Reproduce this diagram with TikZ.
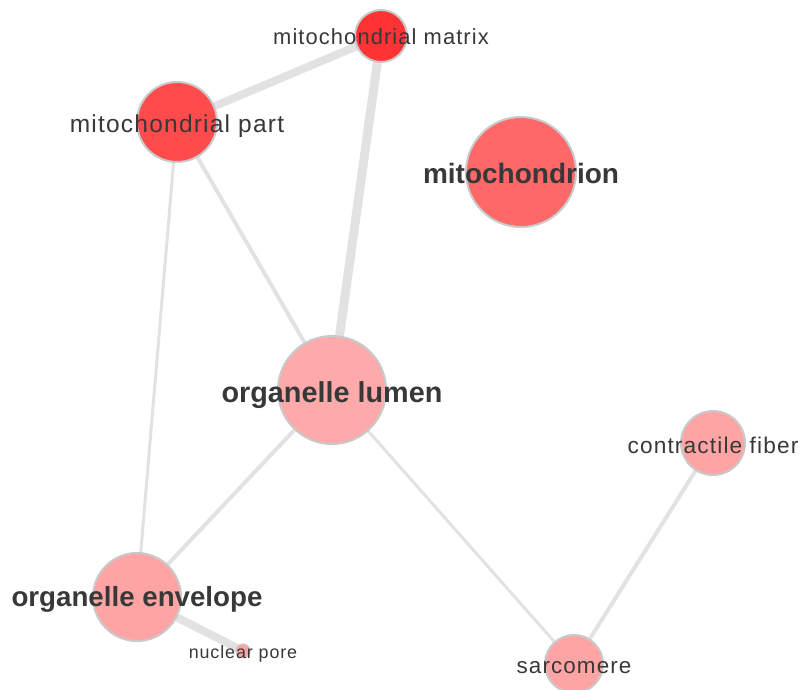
\documentclass[tikz,border=0pt]{standalone}
\usepackage{fontspec}
\setmainfont{Liberation Sans}
\newfontfamily\spacedsans[LetterSpace=5]{Liberation Sans}
\usetikzlibrary{backgrounds}
\definecolor{edgegray}{HTML}{E2E2E2}
\definecolor{ringgray}{HTML}{C9C9C9}
\definecolor{txt}{HTML}{383838}
\definecolor{redA}{HTML}{FF3333}
\definecolor{redB}{HTML}{FF4B4B}
\definecolor{redC}{HTML}{FF6868}
\definecolor{pinkA}{HTML}{FFAAAA}
\definecolor{pinkB}{HTML}{FFA4A4}
\newcommand\lblreg[1]{\fontsize{#1}{#1}\spacedsans}
\newcommand\lblbold[1]{\fontsize{#1}{#1}\selectfont\bfseries}
\tikzset{
  term/.style={circle, draw=ringgray, line width=2pt, inner sep=0pt, minimum size=#1},
  lbl/.style={anchor=base, text=txt, inner sep=0pt},
  link/.style={draw=edgegray, line width=#1},
}
\begin{document}
\begin{tikzpicture}[x=1pt, y=-1pt]
  \useasboundingbox (0,0) rectangle (804,689);
  \clip (0,0) rectangle (804,689);

  % term circles
  \node[term=52pt, fill=redA]  (mm)   at (381,36)  {};
  \node[term=80pt, fill=redB]  (mp)   at (177,122) {};
  \node[term=110pt, fill=redC] (mito) at (521,172) {};
  \node[term=108pt, fill=pinkA] (lum) at (332,390) {};
  \node[term=88pt, fill=pinkB] (env)  at (137,597) {};
  \node[term=14pt, fill=pinkB, line width=1pt] (np) at (243,651) {};
  \node[term=64pt, fill=pinkB] (cf)   at (713,443) {};
  \node[term=58pt, fill=pinkB] (sarc) at (574,664) {};

  % similarity links, beneath the circles
  \begin{scope}[on background layer]
    \draw[link=8pt] (mp.center) -- (mm.center);
    \draw[link=9pt] (mm.center) -- (lum.center);
    \draw[link=4pt] (mp.center) -- (lum.center);
    \draw[link=3pt] (mp.center) -- (env.center);
    \draw[link=4pt] (lum.center) -- (env.center);
    \draw[link=3pt] (lum.center) -- (sarc.center);
    \draw[link=4pt] (cf.center) -- (sarc.center);
    \draw[link=8pt] (env.center) -- (np.center);
  \end{scope}

  % term labels
  \node[lbl, font=\lblreg{21.9}] (mm-l)   at ([yshift=-8pt]mm.center)    {mitochondrial matrix};
  \node[lbl, font=\lblreg{24.5}] (mp-l)   at ([yshift=-10pt]mp.center)   {mitochondrial part};
  \node[lbl, font=\lblbold{28}]  (mito-l) at ([yshift=-11pt]mito.center) {mitochondrion};
  \node[lbl, font=\lblbold{28.8}] (lum-l) at ([yshift=-12pt]lum.center)  {organelle lumen};
  \node[lbl, font=\lblbold{27.7}] (env-l) at ([yshift=-9pt]env.center)   {organelle envelope};
  \node[lbl, font=\lblreg{17.9}] (np-l)   at ([yshift=-7pt]np.center)    {nuclear pore};
  \node[lbl, font=\lblreg{22.7}] (cf-l)   at ([yshift=-10pt]cf.center)   {contractile fiber};
  \node[lbl, font=\lblreg{22.4}] (sarc-l) at ([yshift=-9pt]sarc.center)  {sarcomere};
\end{tikzpicture}
\end{document}
